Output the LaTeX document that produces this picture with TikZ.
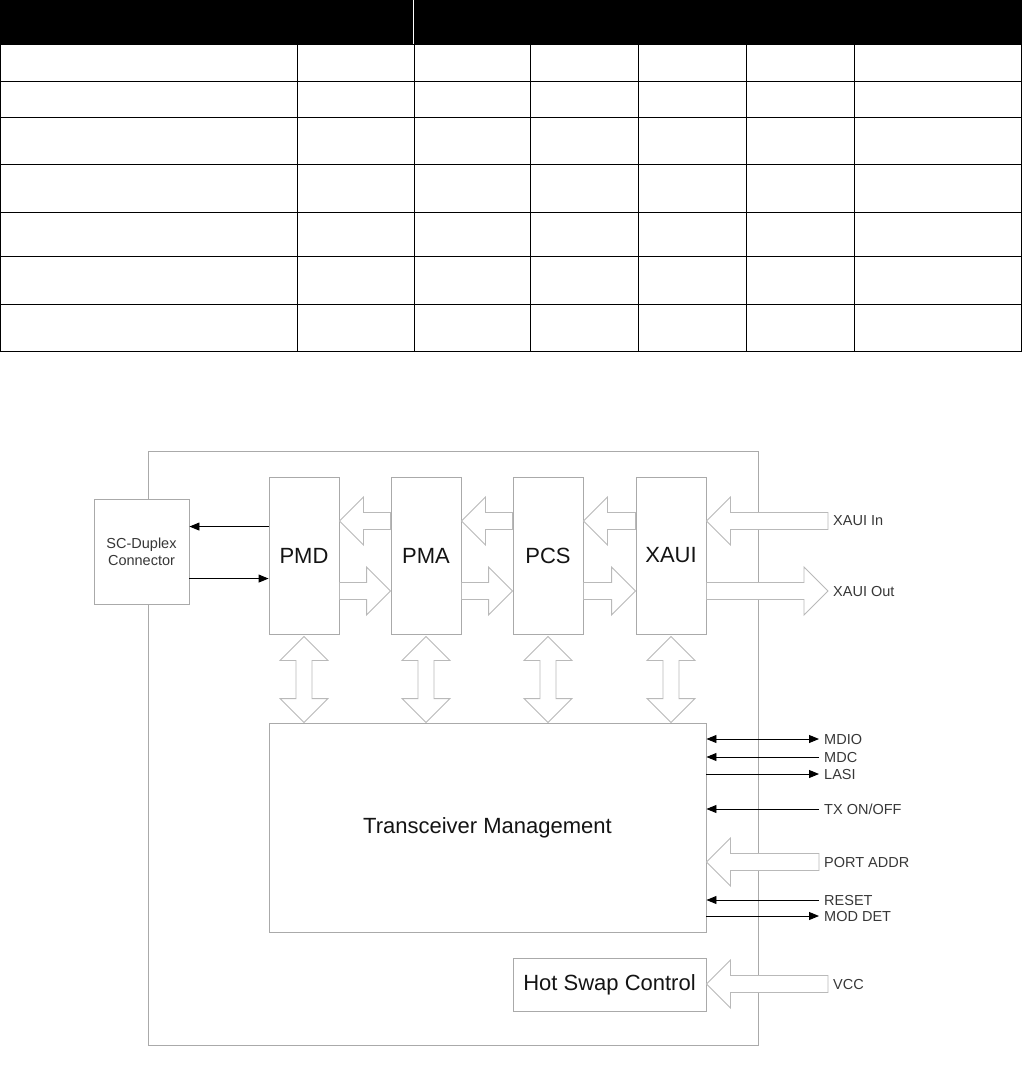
\documentclass[tikz,border=0pt]{standalone}
\usepackage{fontspec}
\setmainfont{Liberation Sans}
\usetikzlibrary{arrows.meta, positioning, calc}
\definecolor{boxgray}  {RGB}{170, 170, 170}
\definecolor{fatgray}  {RGB}{185, 185, 185}
\definecolor{labelgray}{RGB}{55, 55, 55}
\definecolor{textdark} {RGB}{20, 20, 20}
\tikzset{
	baseblock/.style={
		rectangle, draw=boxgray, line width=0.9pt, fill=white,
		inner sep=0pt, align=center, text=textdark,
		font=\fontsize{22}{26}\selectfont
	},
	sigarrow/.style={
		-{Triangle[length=10pt, width=8pt]}, line width=0.9pt, color=black
	},
	dblsigarrow/.style={
		{Triangle[length=10pt, width=8pt]}-{Triangle[length=10pt, width=8pt]},
		line width=0.9pt, color=black
	},
	siglabel/.style={
		anchor=west, inner xsep=5pt, inner ysep=0pt, text=labelgray,
		font=\fontsize{14.5}{17}\selectfont
	},
	fatarrow/.style={
		draw=fatgray, fill=white, line width=0.9pt,
		to path={
			let \p1=(\tikztostart), \p2=(\tikztotarget),
			\n1={atan2(\y2-\y1,\x2-\x1)},
			\n3={veclen(\x2-\x1,\y2-\y1)-24}
			in ($(\p1)+(\n1+90:8.5pt)$)
			-- ($(\p1)+(\n1:\n3)+(\n1+90:8.5pt)$)
			-- ($(\p1)+(\n1:\n3)+(\n1+90:24pt)$)
			-- (\p2)
			-- ($(\p1)+(\n1:\n3)+(\n1-90:24pt)$)
			-- ($(\p1)+(\n1:\n3)+(\n1-90:8.5pt)$)
			-- ($(\p1)+(\n1-90:8.5pt)$) -- cycle
		}
	},
	dblfatarrow/.style={
		draw=fatgray, fill=white, line width=0.9pt,
		to path={
			let \p1=(\tikztostart), \p2=(\tikztotarget),
			\n1={atan2(\y2-\y1,\x2-\x1)},
			\n3={veclen(\x2-\x1,\y2-\y1)-24}
			in (\p1)
			-- ($(\p1)+(\n1:24pt)+(\n1+90:24pt)$)
			-- ($(\p1)+(\n1:24pt)+(\n1+90:8pt)$)
			-- ($(\p1)+(\n1:\n3)+(\n1+90:8pt)$)
			-- ($(\p1)+(\n1:\n3)+(\n1+90:24pt)$)
			-- (\p2)
			-- ($(\p1)+(\n1:\n3)+(\n1-90:24pt)$)
			-- ($(\p1)+(\n1:\n3)+(\n1-90:8pt)$)
			-- ($(\p1)+(\n1:24pt)+(\n1-90:8pt)$)
			-- ($(\p1)+(\n1:24pt)+(\n1-90:24pt)$) -- cycle
		}
	},
	gridline/.style={line width=1pt, color=black}
}

\begin{document}
\begin{tikzpicture}[x=1pt, y=-1pt]
	\useasboundingbox (0,0) rectangle (1022,1077);
	
	%% ═══════════════════════════════
	%%  TABLE — empty grid, black header
	%% ═══════════════════════════════
	\fill[black] (0,0) rectangle (1022,45);
	\draw[white, line width=1pt] (413.5,0) -- (413.5,44);
	\foreach \y in {81,117,164,212,256,304,351}
		\draw[gridline] (0,\y) -- (1021.5,\y);
	\foreach \x in {297,414,530,638,746,854}
		\draw[gridline] (\x,45) -- (\x,351);
	\draw[gridline] (0.5,0) -- (0.5,351.5);
	\draw[gridline] (1021,0) -- (1021,351.5);
	
	%% ═══════════════════════════════
	%%  MODULE outline + SC connector
	%% ═══════════════════════════════
	\node[draw=boxgray, line width=0.9pt,
	minimum width=610pt, minimum height=594pt] (module) at (453,748) {};
	
	\node[baseblock, minimum width=95pt, minimum height=105pt,
	text=labelgray, font=\fontsize{14.5}{17}\selectfont] (sc) at (141.5,551.5) {SC-Duplex\\Connector};
	
	%% ═══════════════════════════════
	%%  ROW 1 — PMD / PMA / PCS / XAUI
	%% ═══════════════════════════════
	\node[baseblock, minimum width=70pt, minimum height=157pt] (pmd)  at (304,555.5) {PMD};
	\node[baseblock, minimum width=70pt, minimum height=157pt] (pma)  at (426,555.5) {PMA};
	\node[baseblock, minimum width=70pt, minimum height=157pt] (pcs)  at (548,555.5) {PCS};
	\node[baseblock, minimum width=70pt, minimum height=157pt] (xaui) at (671,555.5) {XAUI};
	
	\coordinate (rxrow) at (0,521);
	\coordinate (txrow) at (0,591);
	\coordinate (scrx) at ($(pmd.north west)+(0,50)$);
	\coordinate (sctx) at ($(pmd.north west)+(0,102)$);
	
	%% ═══════════════════════════════
	%%  ROW 2 — Transceiver Management
	%% ═══════════════════════════════
	\node[baseblock, minimum width=437pt, minimum height=209pt] (tm) at (487.5,827.5) {Transceiver Management};
	
	%% ═══════════════════════════════
	%%  ROW 3 — Hot Swap Control
	%% ═══════════════════════════════
	\node[baseblock, minimum width=193pt, minimum height=53pt] (hsc) at (609.5,984.5) {Hot Swap Control};
	
	%% signal labels (right side)
	\node[siglabel] (xin)  at (828,521) {XAUI In};
	\node[siglabel] (xout) at (828,591) {XAUI Out};
	\node[siglabel] (mdio) at (819,739) {MDIO};
	\node[siglabel] (mdc)  at (819,757) {MDC};
	\node[siglabel] (lasi) at (819,774) {LASI};
	\node[siglabel] (txon) at (819,809) {TX ON/OFF};
	\node[siglabel] (port) at (819,862) {PORT ADDR};
	\node[siglabel] (rst)  at (819,900) {RESET};
	\node[siglabel] (mdet) at (819,916) {MOD DET};
	\node[siglabel] (vcc)  at (828,984) {VCC};
	
	% PMD ↔ SC-Duplex Connector
	\draw[sigarrow] (scrx) -- (scrx -| sc.east);
	\draw[sigarrow] (sctx -| sc.east) -- (sctx);
	
	% receive path (right → left)
	\draw[fatarrow] (xin.west) to (xaui.east |- rxrow);
	\draw[fatarrow] (xaui.west |- rxrow) to (pcs.east |- rxrow);
	\draw[fatarrow] (pcs.west |- rxrow) to (pma.east |- rxrow);
	\draw[fatarrow] (pma.west |- rxrow) to (pmd.east |- rxrow);
	
	% transmit path (left → right)
	\draw[fatarrow] (pmd.east |- txrow) to (pma.west |- txrow);
	\draw[fatarrow] (pma.east |- txrow) to (pcs.west |- txrow);
	\draw[fatarrow] (pcs.east |- txrow) to (xaui.west |- txrow);
	\draw[fatarrow] (xaui.east |- txrow) to (xout.west);
	
	% layers ↔ Transceiver Management
	\foreach \blk in {pmd, pma, pcs, xaui}
		\draw[dblfatarrow] ([yshift=-2pt]\blk.south) to (\blk.south |- tm.north);
	
	% management signals
	\draw[dblsigarrow] (tm.east |- mdio.west) -- (mdio.west);
	\draw[sigarrow] (mdc.west) -- (tm.east |- mdc.west);
	\draw[sigarrow] (tm.east |- lasi.west) -- (lasi.west);
	\draw[sigarrow] (txon.west) -- (tm.east |- txon.west);
	\draw[fatarrow] (port.west) to (tm.east |- port.west);
	\draw[sigarrow] (rst.west) -- (tm.east |- rst.west);
	\draw[sigarrow] (tm.east |- mdet.west) -- (mdet.west);
	
	% VCC → Hot Swap Control
	\draw[fatarrow] (vcc.west) to (hsc.east |- vcc.west);
	
\end{tikzpicture}
\end{document}
